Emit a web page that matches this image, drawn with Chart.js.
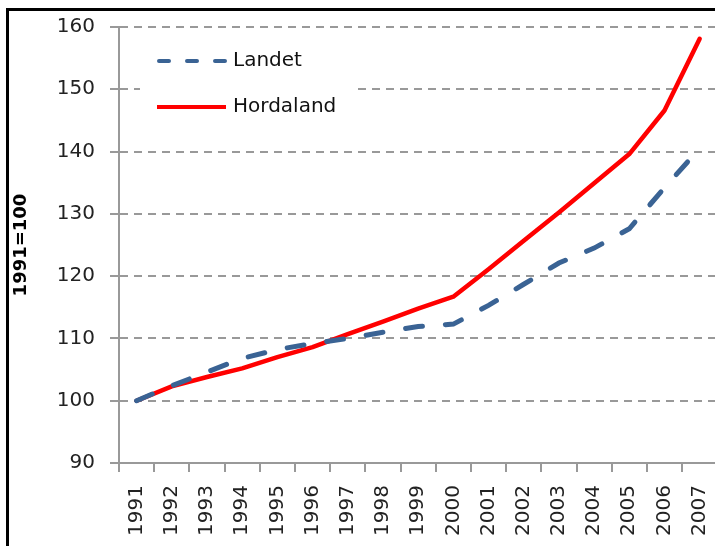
<!DOCTYPE html>
<html>
<head>
    <script src="https://cdn.jsdelivr.net/npm/chart.js"></script>
    <style>
        html, body { margin: 0; padding: 0; background: #fff; overflow: hidden; }
        #wrap { position: relative; width: 715px; height: 546px; overflow: hidden; }
        #myChart { position: absolute; left: 0; top: 0; }
        #frame { position: absolute; left: 6px; top: 8px; width: 800px; height: 600px;
                 border-left: 3px solid #000; border-top: 3px solid #000; pointer-events: none; }
    </style>
</head>
<body>
    <div id="wrap">
        <canvas id="myChart" width="737" height="546"></canvas>
        <div id="frame"></div>
    </div>
    <script>
        // data (index, 1991 = 100)
        var years = ['1991', '1992', '1993', '1994', '1995', '1996', '1997', '1998', '1999',
                     '2000', '2001', '2002', '2003', '2004', '2005', '2006', '2007'];
        var landet = [100, 102.4, 104.6, 106.8, 108.2, 109.2, 110.0, 111.0, 111.9,
                      112.3, 115.3, 118.7, 122.1, 124.5, 127.6, 134.2, 140.5];
        var hordaland = [100, 102.3, 103.8, 105.2, 107.0, 108.6, 110.7, 112.7, 114.8,
                         116.7, 121.1, 125.7, 130.2, 134.9, 139.6, 146.6, 158.1];
        var yTicks = [90, 100, 110, 120, 130, 140, 150, 160];

        var blue = '#3a6394';
        var red = '#ff0000';
        var font = 'DejaVu Sans';

        // legend drawn inside the plot, on a white box over the grid
        var insideLegend = {
            id: 'insideLegend',
            beforeDatasetsDraw: function (chart) {
                var ctx = chart.ctx;
                ctx.save();
                ctx.fillStyle = '#fff';
                ctx.fillRect(140, 36, 218, 92);
                var rows = [
                    { y: 61, ds: chart.data.datasets[0], dash: [10, 18] },
                    { y: 107, ds: chart.data.datasets[1], dash: [] }
                ];
                rows.forEach(function (r) {
                    ctx.beginPath();
                    ctx.setLineDash(r.dash);
                    ctx.lineCap = r.dash.length ? 'round' : 'butt';
                    ctx.lineWidth = 4;
                    ctx.strokeStyle = r.ds.borderColor;
                    ctx.moveTo(r.dash.length ? 159 : 157, r.y);
                    ctx.lineTo(226, r.y);
                    ctx.stroke();
                    ctx.setLineDash([]);
                    ctx.fillStyle = '#111';
                    ctx.font = '20px "' + font + '"';
                    ctx.textBaseline = 'middle';
                    ctx.textAlign = 'left';
                    ctx.fillText(r.ds.label, 233, r.y);
                });
                ctx.restore();
            }
        };

        var ctx = document.getElementById('myChart').getContext('2d');
        var myChart = new Chart(ctx, {
            type: 'line',
            data: {
                labels: years,
                datasets: [{
                    label: 'Landet',
                    data: landet,
                    borderColor: blue,
                    borderWidth: 5,
                    borderDash: [17, 23],
                    borderCapStyle: 'round',
                    pointRadius: 0,
                    tension: 0,
                    fill: false
                }, {
                    label: 'Hordaland',
                    data: hordaland,
                    borderColor: red,
                    borderWidth: 4.5,
                    borderCapStyle: 'round',
                    borderJoinStyle: 'round',
                    pointRadius: 0,
                    tension: 0,
                    fill: false
                }]
            },
            options: {
                responsive: false,
                animation: false,
                devicePixelRatio: 1,
                layout: { padding: { left: 8, top: 24, right: 11, bottom: 0 } },
                plugins: {
                    legend: { display: false },
                    tooltip: { enabled: false }
                },
                scales: {
                    x: {
                        offset: true,
                        grid: {
                            offset: true,
                            drawOnChartArea: false,
                            color: '#999',
                            lineWidth: 2,
                            tickLength: 9
                        },
                        border: { color: '#999', width: 2 },
                        ticks: {
                            autoSkip: false,
                            minRotation: 90,
                            maxRotation: 90,
                            padding: 13,
                            color: '#222',
                            font: { family: font, size: 20 }
                        },
                        afterFit: function (s) { s.height = 83; }
                    },
                    y: {
                        min: 90,
                        max: 160,
                        afterBuildTicks: function (s) {
                            s.ticks = yTicks.map(function (v) { return { value: v }; });
                        },
                        grid: {
                            color: '#999',
                            lineWidth: 2,
                            tickLength: 9,
                            tickBorderDash: [],
                            tickColor: '#999'
                        },
                        border: { color: '#999', width: 2, dash: [8, 6] },
                        ticks: {
                            padding: 15,
                            color: '#222',
                            font: { family: font, size: 20 }
                        },
                        title: {
                            display: true,
                            text: '1991=100',
                            color: '#000',
                            padding: { top: 3, bottom: 0 },
                            font: { family: font, size: 18, weight: 'bold' }
                        },
                        afterFit: function (s) { s.width = 111; }
                    }
                }
            },
            plugins: [insideLegend]
        });
    </script>
</body>
</html>
